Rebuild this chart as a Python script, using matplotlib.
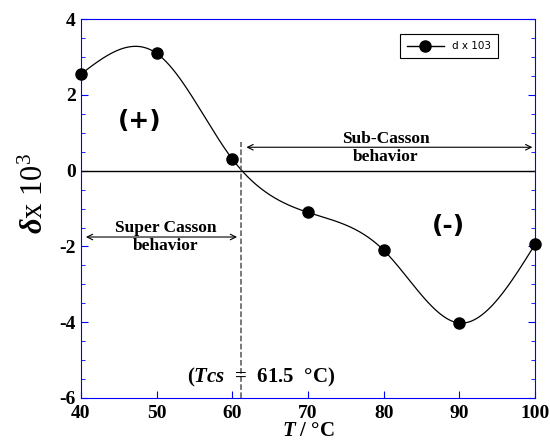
import numpy as np
import matplotlib
matplotlib.use('Agg')
import matplotlib.pyplot as plt
from matplotlib.ticker import MultipleLocator

T = [40, 50, 60, 70, 80, 90, 100]
delta = [2.55, 3.1, 0.31, -1.1, -2.1, -4.02, -1.94]
x_ticks = [40, 50, 60, 70, 80, 90, 100]
y_ticks = [-6, -4, -2, 0, 2, 4]


def natural_spline(x, y, xs):
    x = np.asarray(x, float)
    y = np.asarray(y, float)
    n = len(x)
    h = np.diff(x)
    A = np.zeros((n, n))
    b = np.zeros(n)
    A[0, 0] = A[-1, -1] = 1
    for i in range(1, n - 1):
        A[i, i - 1] = h[i - 1]
        A[i, i] = 2 * (h[i - 1] + h[i])
        A[i, i + 1] = h[i]
        b[i] = 6 * ((y[i + 1] - y[i]) / h[i] - (y[i] - y[i - 1]) / h[i - 1])
    M = np.linalg.solve(A, b)
    out = np.empty_like(xs)
    for k, t in enumerate(xs):
        i = min(max(np.searchsorted(x, t) - 1, 0), n - 2)
        a = x[i + 1] - t
        c = t - x[i]
        out[k] = (M[i] * a**3 + M[i + 1] * c**3) / (6 * h[i]) \
            + (y[i] / h[i] - M[i] * h[i] / 6) * a \
            + (y[i + 1] / h[i] - M[i + 1] * h[i] / 6) * c
    return out


serif = 'Liberation Serif'
plt.rcParams['axes.unicode_minus'] = False
plt.rcParams['mathtext.fontset'] = 'custom'
plt.rcParams['mathtext.rm'] = 'Liberation Serif'
plt.rcParams['mathtext.it'] = 'Liberation Serif:italic:bold'
plt.rcParams['mathtext.bf'] = 'Liberation Serif:bold'

fig = plt.figure(figsize=(5.5, 4.43), dpi=100)
ax = fig.add_axes([0.147, 0.1016, 0.826, 0.855])

xs = np.linspace(40, 100, 400)
ax.plot(xs, natural_spline(T, delta, xs), color='black', lw=0.9, zorder=2)
ax.plot(T, delta, 'o', color='black', ms=8, zorder=3, clip_on=False)
ax.plot([], [], '-o', color='black', ms=8, lw=1, label='d x 103')

ax.axhline(0, color='black', lw=1)
ax.plot([61.2, 61.2], [-6, 0.75], '--', color='#555555', lw=1.1)

# annotation arrows and labels
ax.annotate('', xy=(61.5, 0.62), xytext=(100, 0.62),
            arrowprops=dict(arrowstyle='<->', color='black', lw=0.8))
ax.text(80.3, 0.6, 'Sub-Casson\nbehavior', ha='center', va='center',
        fontfamily=serif, fontweight='bold', fontsize=12.5, linespacing=1.2)
ax.annotate('', xy=(40.3, -1.75), xytext=(61, -1.75),
            arrowprops=dict(arrowstyle='<->', color='black', lw=0.8))
ax.text(51.2, -1.75, 'Super Casson\nbehavior', ha='center', va='center',
        fontfamily=serif, fontweight='bold', fontsize=12.5, linespacing=1.2)

ax.text(47.8, 1.3, '(+)', ha='center', va='center', fontsize=18, fontweight='bold')
ax.text(88.6, -1.45, '(-)', ha='center', va='center', fontsize=18, fontweight='bold')
ax.text(63.8, -5.47, r'($\mathit{Tcs}$  =  61.5  °C)', ha='center', va='center',
        fontfamily=serif, fontweight='bold', fontsize=15)

ax.set_xlim(40, 100)
ax.set_ylim(-6, 4)
ax.set_xticks(x_ticks)
ax.set_yticks(y_ticks)
ax.yaxis.set_minor_locator(MultipleLocator(0.5))
ax.tick_params(which='both', direction='in', right=True, color='blue')
ax.tick_params(which='major', length=5, labelsize=14)
ax.tick_params(which='minor', length=3)
ax.tick_params(axis='x', pad=5)
for lab in ax.get_xticklabels() + ax.get_yticklabels():
    lab.set_fontfamily(serif)
    lab.set_fontweight('bold')
for sp in ax.spines.values():
    sp.set_color('blue')

ax.set_xlabel(r'$\mathit{T}$ / °C', fontfamily=serif, fontweight='bold',
              fontsize=15, labelpad=-1)
ax.set_ylabel(r'$\mathit{\delta}$x 10$^{\mathrm{3}}$', fontfamily=serif, fontsize=22)
ax.yaxis.set_label_coords(-0.068, 0.54)

leg = ax.legend(loc='upper right', bbox_to_anchor=(0.93, 0.975), fontsize=7.5,
                fancybox=False, edgecolor='black', framealpha=1,
                handlelength=3.5, borderpad=0.7)
leg.get_frame().set_linewidth(0.8)

fig.savefig('out.png', dpi=100)
